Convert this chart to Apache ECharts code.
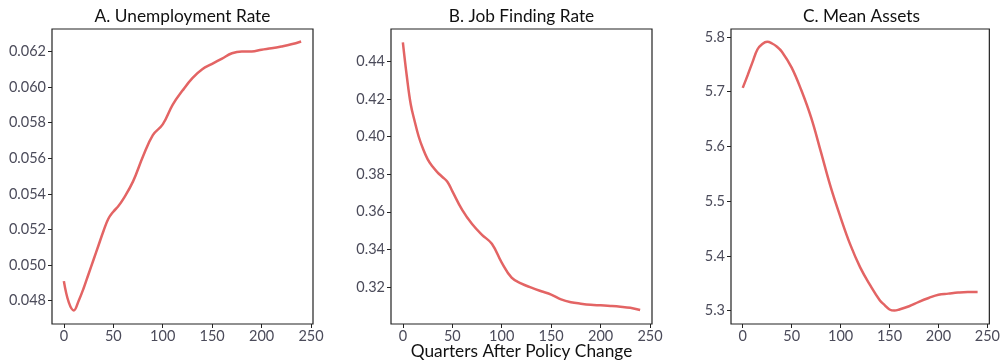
<!DOCTYPE html>
<html>
<head>
<meta charset="utf-8">
<script src="https://cdn.jsdelivr.net/npm/echarts@6/dist/echarts.min.js"></script>
<style>
  html, body { margin: 0; padding: 0; background: #fff; }
  #chart { width: 1003px; height: 360px; }
</style>
</head>
<body>
<div id="chart"></div>
<script>
// Quarters after the policy change, one list per panel
const quartersA = [0, 5, 10, 15, 20, 25, 30, 35, 40, 45, 50, 55, 60, 70, 80, 90, 100, 110, 120, 130, 140, 150, 160, 170, 180, 190, 200, 210, 220, 230, 240];
const quartersB = [0, 4, 8, 12, 16, 20, 25, 30, 35, 40, 45, 50, 60, 70, 80, 90, 100, 110, 120, 130, 140, 150, 160, 170, 180, 190, 200, 210, 220, 230, 240];
const quartersC = [0, 5, 10, 15, 20, 25, 30, 35, 40, 50, 60, 70, 80, 90, 100, 110, 120, 130, 140, 145, 150, 155, 160, 170, 180, 190, 200, 210, 220, 230, 240];

// A. Unemployment rate
const unemployment = [0.0491, 0.0479, 0.04745, 0.0480, 0.0487, 0.0495, 0.0503, 0.0511, 0.0519, 0.0526, 0.0530, 0.0533, 0.0537, 0.0547, 0.0561, 0.0573, 0.0579, 0.0590, 0.0598, 0.0605, 0.0610, 0.0613, 0.0616, 0.0619, 0.0620, 0.0620, 0.0621, 0.06218, 0.06228, 0.0624, 0.06256];

// B. Job finding rate
const jobFinding = [0.450, 0.432, 0.417, 0.408, 0.400, 0.394, 0.388, 0.384, 0.381, 0.3785, 0.3760, 0.3710, 0.3610, 0.3535, 0.3478, 0.3430, 0.3330, 0.3250, 0.3218, 0.3197, 0.3178, 0.3160, 0.3135, 0.3120, 0.3112, 0.3106, 0.3103, 0.3100, 0.3096, 0.3090, 0.3078];

// C. Mean assets
const meanAssets = [5.707, 5.730, 5.754, 5.777, 5.787, 5.791, 5.788, 5.782, 5.773, 5.744, 5.702, 5.652, 5.589, 5.525, 5.470, 5.420, 5.379, 5.347, 5.319, 5.310, 5.302, 5.300, 5.302, 5.308, 5.316, 5.323, 5.329, 5.331, 5.333, 5.334, 5.334];

// Tick labels
const xTicks = [0, 50, 100, 150, 200, 250];
const yTicksA = [0.048, 0.050, 0.052, 0.054, 0.056, 0.058, 0.060, 0.062];
const yTicksB = [0.32, 0.34, 0.36, 0.38, 0.40, 0.42, 0.44];
const yTicksC = [5.3, 5.4, 5.5, 5.6, 5.7, 5.8];

const panelTitles = ['A. Unemployment Rate', 'B. Job Finding Rate', 'C. Mean Assets'];
const xAxisTitle = 'Quarters After Policy Change';

const FONT = 'Lato, "DejaVu Sans", sans-serif';
const LINE_COLOR = '#e36464';
const TICK_COLOR = '#4b4b5a';

const grids = [
  { left: 52, top: 29, width: 261, height: 295 },
  { left: 391, top: 29, width: 261, height: 295 },
  { left: 731, top: 29, width: 261, height: 295 }
];

function pairs(xs, ys) { return xs.map((x, i) => [x, ys[i]]); }

function xAxisFor(i) {
  return {
    type: 'value', gridIndex: i, min: -12, max: 252,
    axisLine: { show: false, onZero: false },
    splitLine: { show: false },
    axisTick: { show: true, inside: false, length: 4, customValues: xTicks, lineStyle: { color: '#222', width: 1 } },
    axisLabel: { customValues: xTicks, margin: 5, color: TICK_COLOR, fontFamily: FONT, fontSize: 14.5 }
  };
}

function yAxisFor(i, min, max, ticks, digits) {
  return {
    type: 'value', gridIndex: i, min: min, max: max,
    axisLine: { show: false, onZero: false },
    splitLine: { show: false },
    axisTick: { show: true, inside: false, length: 4, customValues: ticks, lineStyle: { color: '#222', width: 1 } },
    axisLabel: { customValues: ticks, margin: 6, color: TICK_COLOR, fontFamily: FONT, fontSize: 14.5,
      formatter: v => Number(v).toFixed(digits) }
  };
}

const chart = echarts.init(document.getElementById('chart'), null, { renderer: 'canvas' });

chart.setOption({
  animation: false,
  backgroundColor: '#ffffff',
  title: panelTitles.map((t, i) => ({
    text: t,
    left: grids[i].left + grids[i].width / 2,
    top: 8,
    textAlign: 'center',
    padding: 0,
    textStyle: { fontFamily: FONT, fontSize: 17.3, fontWeight: 'normal', color: '#111' }
  })).concat([{
    text: xAxisTitle,
    left: grids[1].left + grids[1].width / 2,
    top: 343,
    textAlign: 'center',
    padding: 0,
    textStyle: { fontFamily: FONT, fontSize: 17.3, fontWeight: 'normal', color: '#111' }
  }]),
  grid: grids.map(g => Object.assign({ show: true, borderColor: '#222', borderWidth: 1.2, backgroundColor: 'transparent' }, g)),
  xAxis: [xAxisFor(0), xAxisFor(1), xAxisFor(2)],
  yAxis: [
    yAxisFor(0, 0.04669, 0.06326, yTicksA, 3),
    yAxisFor(1, 0.3004, 0.4571, yTicksB, 2),
    yAxisFor(2, 5.2755, 5.8145, yTicksC, 1)
  ],
  series: [
    { data: pairs(quartersA, unemployment), xAxisIndex: 0, yAxisIndex: 0 },
    { data: pairs(quartersB, jobFinding), xAxisIndex: 1, yAxisIndex: 1 },
    { data: pairs(quartersC, meanAssets), xAxisIndex: 2, yAxisIndex: 2 }
  ].map(s => Object.assign({
    type: 'line', smooth: 0.4, showSymbol: false,
    lineStyle: { color: LINE_COLOR, width: 2.5 }, itemStyle: { color: LINE_COLOR }
  }, s))
});
</script>
</body>
</html>
